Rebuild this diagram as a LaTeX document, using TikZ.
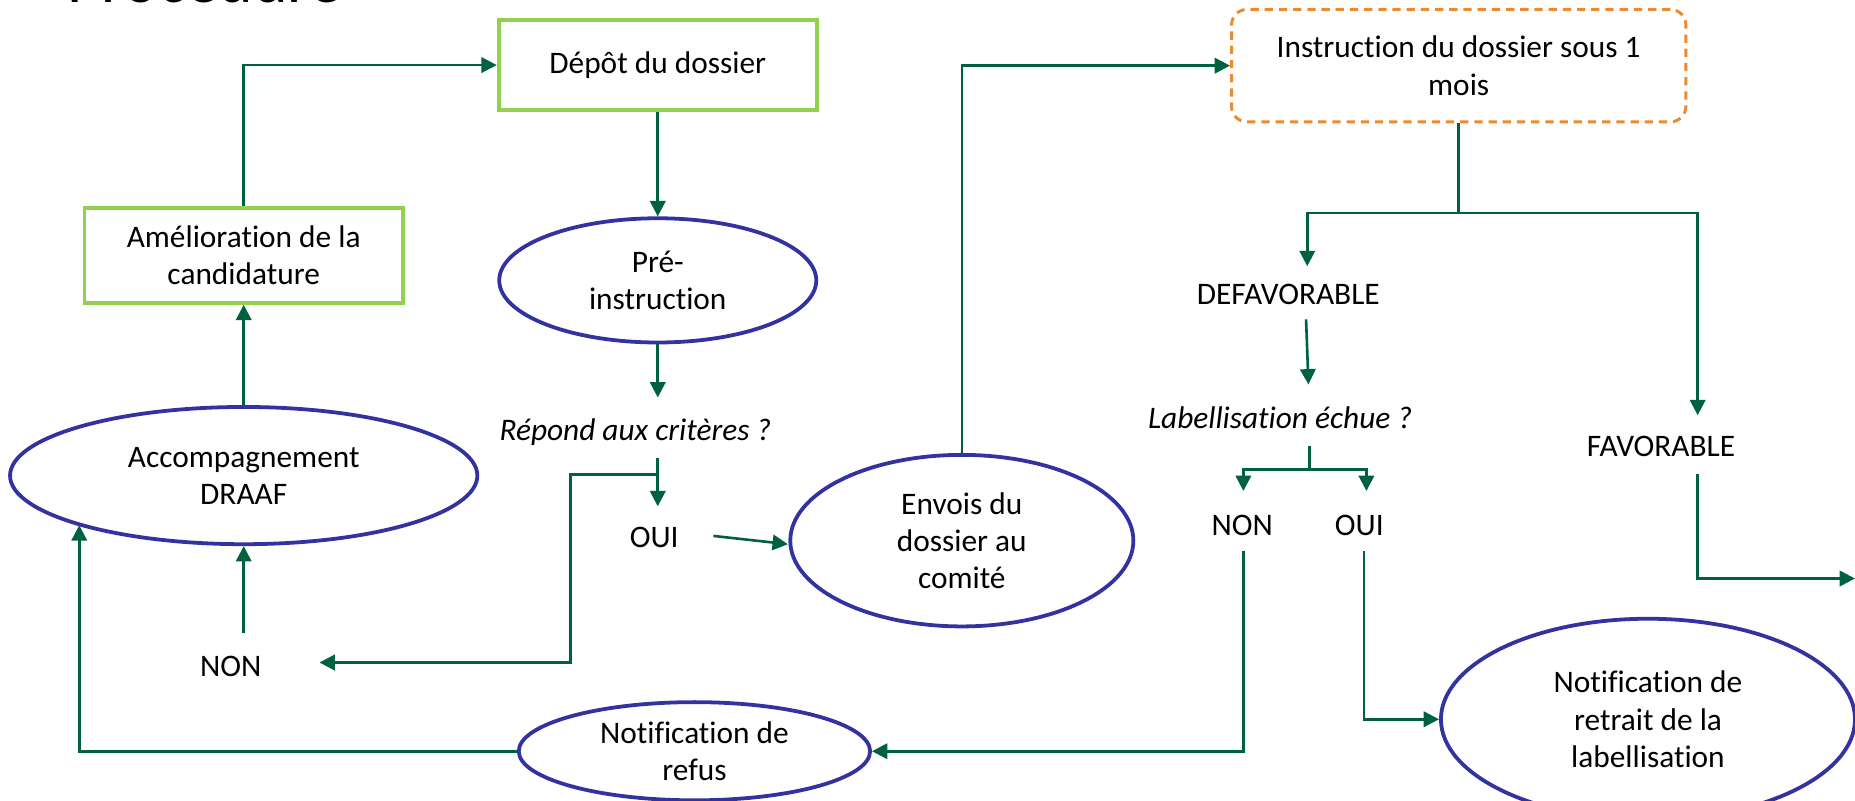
\documentclass[tikz,border=0pt]{standalone}
\usepackage{fontspec}
\setmainfont{Carlito}[Ligatures={NoCommon,NoRare,NoContextual}]
\usetikzlibrary{arrows.meta,shapes.geometric,calc}
\definecolor{connc}{RGB}{0,97,65}
\definecolor{boxg}{RGB}{146,208,80}
\definecolor{ellb}{RGB}{50,50,160}
\definecolor{orng}{RGB}{237,137,47}
\begin{document}
\begin{tikzpicture}[x=1pt,y=-1pt,
  every node/.style={font=\fontsize{26.5}{31.5}\selectfont, align=center, inner sep=0pt},
  gbox/.style={draw=boxg, line width=3.2pt},
  obox/.style={draw=orng, line width=2.5pt, dash pattern=on 7pt off 5pt, rounded corners=13pt},
  ell/.style={ellipse, draw=ellb, line width=3.2pt},
  lbl/.style={anchor=base},
  cn/.style={draw=connc, line width=2.2pt},
  arr/.style={cn, -{Triangle[length=13pt,width=13pt]}}
]
\useasboundingbox (0,0) rectangle (1568,677);

% title (partly cut off at top, as in the reference)
\node[anchor=base west, font=\fontsize{55.6}{60}\selectfont] (title) at (57,2.5) {Procédure};

% boxes
\node[gbox, minimum width=269pt, minimum height=76pt] (depot) at (556,55) {Dépôt du dossier};
\node[gbox, minimum width=269pt, minimum height=80pt] (amel) at (206,216) {Amélioration de la\\candidature};
\node[obox, minimum width=384pt, minimum height=95pt] (instr) at (1233,55.5) {Instruction du dossier sous 1\\mois};

% ellipses
\node[ell, minimum width=268pt, minimum height=105pt] (pre) at (556,237) {Pré-\\instruction};
\node[ell, minimum width=395pt, minimum height=116pt] (acc) at (206,402) {Accompagnement\\DRAAF};
\node[ell, minimum width=290pt, minimum height=145pt] (envois) at (813,457) {Envois du\\dossier au\\comité};
\node[ell, minimum width=297pt, minimum height=83pt] (refus) at (587,635) {Notification de\\refus};
\node[ell, minimum width=350pt, minimum height=170pt] (retrait) at (1393,608) {Notification de\\retrait de la\\labellisation};

% labels
\node[lbl] (crit) at (537,372) {\itshape Répond aux critères ?};
\node[lbl] (oui1) at (553,463) {OUI};
\node[lbl] (non1) at (195,571.5) {NON};
\node[lbl] (defav) at (1089,257.5) {DEFAVORABLE};
\node[lbl] (lab) at (1082,362) {\itshape Labellisation échue ?};
\node[lbl] (non2) at (1050,452.5) {NON};
\node[lbl] (oui2) at (1149,452.5) {OUI};
\node[lbl] (fav) at (1404,385.5) {FAVORABLE};

% free ends / bends
\coordinate (critTop) at (556,336);
\coordinate (critBot) at (556,387);
\coordinate (critSplit) at (556,401);
\coordinate (oui1Top) at (556,428);
\coordinate (non1R) at (270,560);
\coordinate (oui1R) at (603,453);
\coordinate (envIn) at (666,460);
\coordinate (split) at (1233,180);
\coordinate (defTop) at (1105,225);
\coordinate (favTop) at (1435,351);
\coordinate (defBot) at (1104,270);
\coordinate (labTop) at (1106,325);
\coordinate (labBot) at (1107,377);
\coordinate (split2) at (1107,397);
\coordinate (non2Top) at (1051,415);
\coordinate (oui2Top) at (1155,415);
\coordinate (non2Bot) at (1051,466);
\coordinate (oui2Bot) at (1153,466);
\coordinate (favBot) at (1435,401);
\coordinate (favEnd) at (1568,489);
\coordinate (non1Top) at (206,535);
\coordinate (accIn) at (67,444);

% connectors
\draw[arr] (amel.north) |- (depot.west);
\draw[arr] (depot.south) -- (pre.north);
\draw[arr] (pre.south) -- (critTop);
\draw[arr] (critBot) -- (oui1Top);
\draw[arr] (critSplit) -| (482,560) -- (non1R);
\draw[arr] (oui1R) -- (envIn);
\draw[arr] (envois.north) |- (instr.west);
\draw[cn] (instr.south) -- (split);
\draw[arr] (split) -| (defTop);
\draw[arr] (split) -| (favTop);
\draw[arr] (defBot) -- (labTop);
\draw[cn] (labBot) -- (split2);
\draw[arr] (split2) -| (non2Top);
\draw[arr] (split2) -| (oui2Top);
\draw[arr] (non2Bot) |- (refus.east);
\draw[arr] (oui2Bot) |- (retrait.west);
\draw[arr] (favBot) |- (favEnd);
\draw[arr] (acc.north) -- (amel.south);
\draw[arr] (non1Top) -- (acc.south);
\draw[arr] (refus.west) -| (accIn);
\end{tikzpicture}
\end{document}
